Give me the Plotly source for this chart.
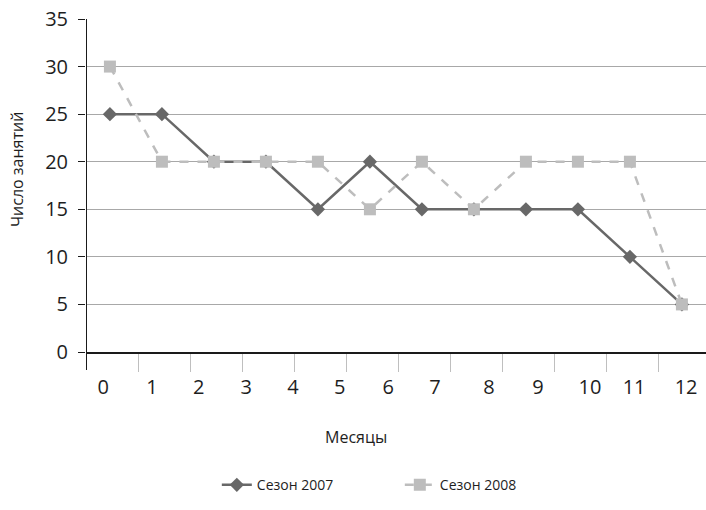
import plotly.graph_objects as go

# Число занятий по месяцам в двух сезонах
month_index = list(range(12))
season_2007 = [25, 25, 20, 20, 15, 20, 15, 15, 15, 15, 10, 5]
season_2008 = [30, 20, 20, 20, 20, 15, 20, 15, 20, 20, 20, 5]

# Подписи оси X и их положение на оси
tick_labels = [str(v) for v in range(13)]
tick_label_pos = [0.33, 1.27, 2.17, 3.08, 3.98, 4.88, 5.81, 6.71, 7.75, 8.69, 9.69, 10.54, 11.54]
y_ticks = [0, 5, 10, 15, 20, 25, 30, 35]

FONT = "Open Sans"
point_offset = 0.46  # точки стоят внутри интервала между делениями
x_points = [m + point_offset for m in month_index]

fig = go.Figure()
fig.add_trace(go.Scatter(
    x=x_points, y=season_2007, name="Сезон 2007",
    mode="lines+markers",
    line=dict(color="#686868", width=2.5),
    marker=dict(symbol="diamond", size=11, color="#686868"),
))
fig.add_trace(go.Scatter(
    x=x_points, y=season_2008, name="Сезон 2008",
    mode="lines+markers",
    line=dict(color="#bdbdbd", width=2.5, dash="dash"),
    marker=dict(symbol="square", size=12, color="#bdbdbd"),
))

fig.update_layout(
    width=706, height=510,
    margin=dict(l=86, r=0, t=19, b=158),
    paper_bgcolor="white", plot_bgcolor="white",
    font=dict(family=FONT, color="#1e1e1e"),
    showlegend=True,
    legend=dict(
        orientation="h", x=0.211, xanchor="left", y=-0.40, yanchor="middle",
        font=dict(family=FONT, size=14, color="#1e1e1e"),
        entrywidth=138, entrywidthmode="pixels",
    ),
    xaxis=dict(
        range=[0, 620 / 52], showgrid=False, zeroline=False,
        showline=True, linecolor="#1a1a1a", linewidth=2,
        tickmode="array", tickvals=tick_label_pos, ticktext=tick_labels,
        ticks="outside", ticklen=16, tickcolor="rgba(0,0,0,0)",
        tickfont=dict(family=FONT, size=20, color="#1e1e1e"),
        minor=dict(tickmode="array", tickvals=list(range(1, 13)),
                   ticks="outside", ticklen=18, tickcolor="#bfbfbf", tickwidth=1,
                   showgrid=False),
        fixedrange=True,
    ),
    yaxis=dict(
        range=[0, 35], tickmode="array", tickvals=y_ticks,
        showgrid=True, gridcolor="#a8a8a8", gridwidth=1,
        zeroline=False, showline=False,
        ticks="outside", ticklen=7, tickcolor="#1a1a1a", tickwidth=1,
        ticklabelstandoff=6,
        tickfont=dict(family=FONT, size=20, color="#1e1e1e"),
        fixedrange=True,
    ),
    shapes=[
        # вертикальная ось с продолжением ниже нуля
        dict(type="line", xref="x", yref="paper", x0=0, x1=0, y0=1, y1=0,
             line=dict(color="#1a1a1a", width=2)),
        dict(type="line", xref="x", yref="y domain", x0=0, x1=0, y0=0, y1=-18 / 333,
             line=dict(color="#1a1a1a", width=2)),
    ],
    annotations=[
        dict(text="Число занятий", xref="paper", yref="paper",
             x=(17 - 86) / 620, y=(352 - 170) / 333, textangle=-90,
             xanchor="center", yanchor="middle",
             showarrow=False, font=dict(family=FONT, size=16, color="#1e1e1e")),
        dict(text="Месяцы", xref="paper", yref="paper",
             x=(356 - 86) / 620, y=(352 - 437) / 333,
             xanchor="center", yanchor="middle",
             showarrow=False, font=dict(family=FONT, size=16, color="#1e1e1e")),
    ],
)

fig.write_html("out.html")
